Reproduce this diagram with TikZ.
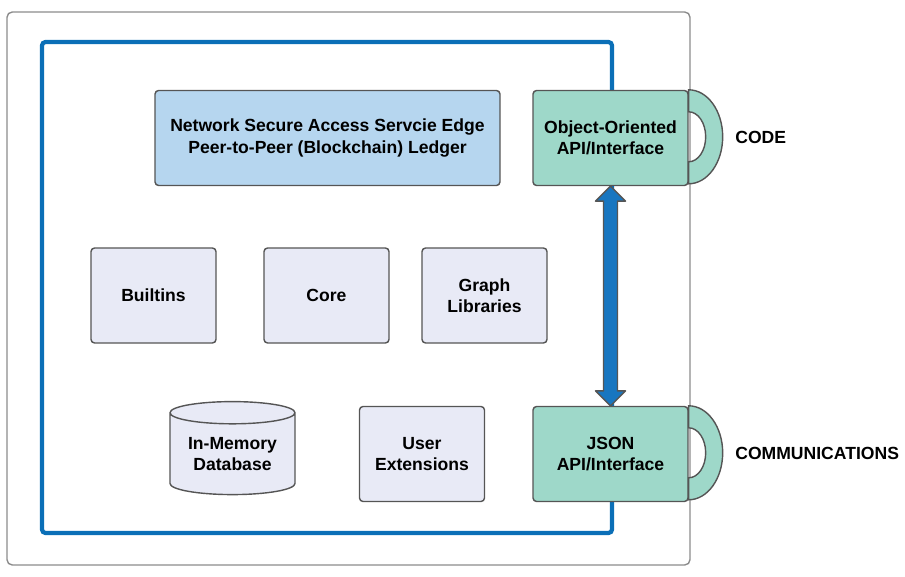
\documentclass[tikz,border=0pt]{standalone}
\usepackage{fontspec}
\setmainfont{Liberation Sans}
\usetikzlibrary{shapes.geometric,positioning,calc}
\definecolor{edgeblue}{RGB}{11,111,183}
\definecolor{arrowblue}{RGB}{24,118,192}
\definecolor{ledgerfill}{RGB}{182,214,239}
\definecolor{apifill}{RGB}{158,216,201}
\definecolor{partfill}{RGB}{232,234,246}
\definecolor{lineg}{RGB}{85,85,85}
\tikzset{
    part/.style={
        rectangle,
        rounded corners=2pt,
        draw=lineg,
        thick,
        fill=partfill,
        minimum width=2.5cm,
        minimum height=1.9cm,
        inner sep=0pt,
        align=center,
        font=\fontsize{10}{12}\selectfont\bfseries,
    },
    ledger/.style={
        part,
        fill=ledgerfill,
        minimum width=6.9cm,
    },
    api/.style={
        part,
        fill=apifill,
        minimum width=3.1cm,
    },
    store/.style={
        cylinder,
        shape border rotate=90,
        aspect=0.25,
        draw=lineg,
        thick,
        fill=partfill,
        minimum width=2.5cm,
        minimum height=1.86cm,
        inner sep=0pt,
        align=center,
        font=\fontsize{10}{12}\selectfont\bfseries,
    },
    tag/.style={
        anchor=west,
        inner sep=0pt,
        font=\fontsize{10}{12}\selectfont\bfseries,
    },
    link/.style={
        draw=lineg,
        thick,
        fill=arrowblue,
        line join=round,
    },
}
\newcommand{\apiring}[1]{%
    \draw[draw=lineg,thick,fill=apifill] (#1.north east)
        arc[start angle=90,end angle=-90,x radius=0.68cm,y radius=0.94cm]
        -- ++(0,0.44cm)
        arc[start angle=-90,end angle=90,x radius=0.34cm,y radius=0.5cm]
        -- cycle;
}

\begin{document}
\begin{tikzpicture}[x=0.02cm,y=-0.02cm]
    \useasboundingbox (0,0) rectangle (905,577);
    % frames
    \draw[draw=black!45,thick,rounded corners=3pt] (7,12) rectangle (690,565);
    \draw[draw=edgeblue,line width=2.4pt,rounded corners=2pt] (42,42) rectangle (612,533);

    \node [ledger] (ledger) at (327.5,138) {Network Secure Access Servcie Edge\\Peer-to-Peer (Blockchain) Ledger};
    \node [api] (ob) at (610.5,138) {Object-Oriented\\API/Interface};
    \node [api] (json) at (610.5,454) {JSON\\API/Interface};
    \apiring{ob}
    \apiring{json}

    \node [part] (builtins) at (153.5,295.5) {Builtins};
    \node [part] (core) at (326.5,295.5) {Core};
    \node [part] (graph) at (484.5,295.5) {Graph\\Libraries};
    \node [store] (db) at (232.5,454) {In-Memory\\Database};
    \node [part] (ext) at (422,454) {User\\Extensions};

    % two-way link between the interfaces
    \draw [link] (ob.south) -- ++(15,15) -- ++(-8,0)
        -- ($(json.north)+(7,-15)$) -- ++(8,0) -- (json.north)
        -- ++(-15,-15) -- ++(8,0)
        -- ($(ob.south)+(-7,15)$) -- ++(-8,0) -- cycle;

    \node [tag] (code) at (735,137) {CODE};
    \node [tag] (comm) at (735,453) {COMMUNICATIONS};
\end{tikzpicture}
\end{document}
